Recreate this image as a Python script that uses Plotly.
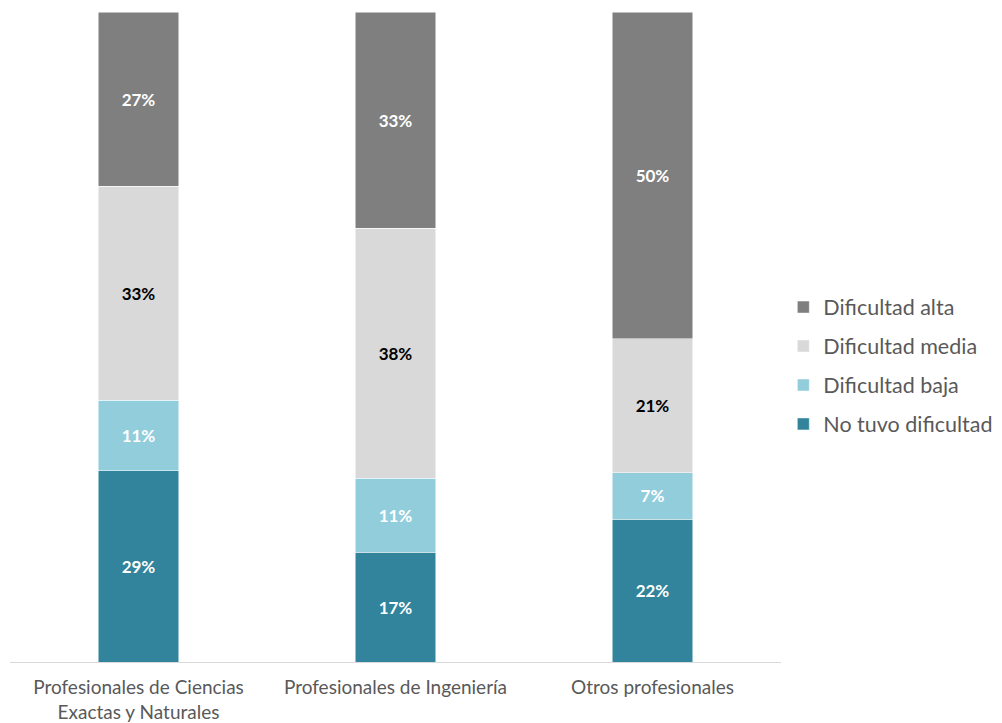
import plotly.graph_objects as go

categories = ["Profesionales de Ciencias<br>Exactas y Naturales",
              "Profesionales de Ingeniería",
              "Otros profesionales"]
series_names = ["No tuvo dificultad", "Dificultad baja", "Dificultad media", "Dificultad alta"]
no_tuvo = [29.4, 16.9, 22.0]
baja = [10.9, 11.4, 7.1]
media = [32.9, 38.4, 20.6]
alta = [26.8, 33.3, 50.3]

colors = ["#31849B", "#92CDDC", "#D9D9D9", "#7F7F7F"]
text_colors = ["white", "white", "black", "white"]
legend_ranks = [4, 3, 2, 1]

fig = go.Figure()
for name, vals, col, tcol, rank in zip(series_names, [no_tuvo, baja, media, alta],
                                       colors, text_colors, legend_ranks):
    fig.add_trace(go.Bar(
        x=categories, y=vals, name=name, legendgroup=name, legendrank=rank,
        marker=dict(color=col, line=dict(color="white", width=0.5)),
        text=[f"{round(v)}%" for v in vals],
        textposition="inside", insidetextanchor="middle",
        textfont=dict(color=tcol, size=17, family="Lato", weight="bold"),
        textangle=0,
        hoverinfo="skip",
    ))

fig.update_layout(
    barmode="stack",
    bargap=0.685,
    width=994, height=715,
    margin=dict(l=2, r=221, t=4, b=61, autoexpand=False),
    paper_bgcolor="white", plot_bgcolor="white",
    font=dict(family="Lato", color="#595959"),
    legend=dict(
        x=1.003, xanchor="left", y=0.456, yanchor="middle",
        traceorder="grouped", tracegroupgap=8,
        font=dict(size=21.5, color="#595959"),
        itemwidth=30,
    ),
    xaxis=dict(
        showline=True, linecolor="#D9D9D9", linewidth=1,
        tickfont=dict(size=19, color="#595959"),
        ticks="", showgrid=False, ticklabelstandoff=8, automargin=False,
    ),
    yaxis=dict(range=[0, 100], visible=False, showgrid=False, automargin=False),
)

fig.write_html("out.html")
